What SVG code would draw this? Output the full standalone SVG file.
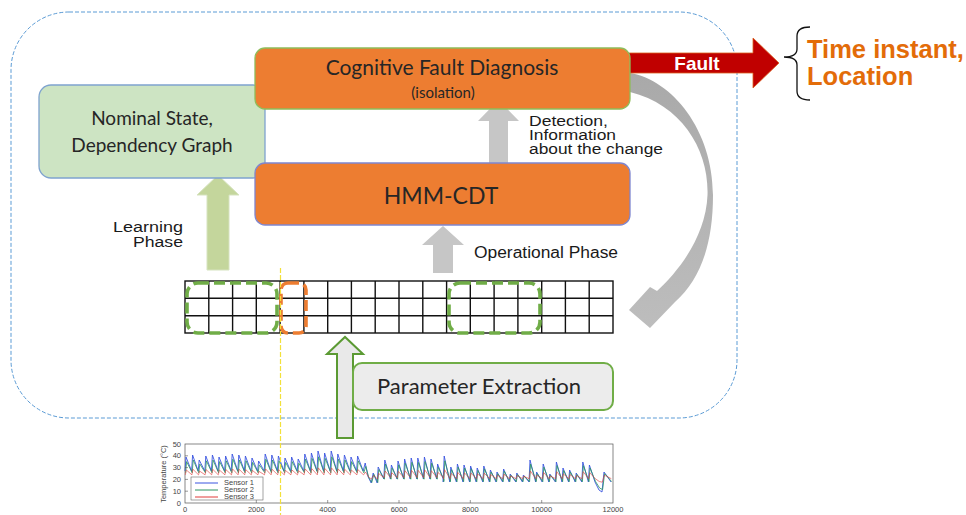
<svg xmlns="http://www.w3.org/2000/svg" xmlns:xlink="http://www.w3.org/1999/xlink" width="966" height="515" viewBox="0 0 966 515">
<style>
.cal{font-family:Lato,"Open Sans","Liberation Sans",sans-serif;fill:#262626}
.ari{font-family:"Liberation Sans",Arial,sans-serif;fill:#1a1a1a}
.box{stroke-width:1.3}
.grid{stroke:#111;stroke-width:1.4;fill:none}
.dash{fill:none;stroke-width:3.6;stroke-dasharray:11 5}
.tick{font-family:"Liberation Sans",Arial,sans-serif;font-size:7.5px;fill:#444}
.gray{fill:#c6c6c6}
</style>
<defs>
<linearGradient id="curveg" x1="0" y1="0" x2="0" y2="1">
  <stop offset="0" stop-color="#a9a9a9"/>
  <stop offset="1" stop-color="#bdbdbd"/>
</linearGradient>
<path id="s1" fill="none" d="M185,471 l1,-14l5.6,14 l1,-16l5.6,16 l1,-11l5.6,11 l1,-15l5.6,15 l1,-16l5.6,16 l1,-14l5.6,14 l1,-15l5.6,15 l1,-17l5.6,17 l1,-16l5.6,16 l1,-15l5.6,15 l1,-13l5.6,13 l1,-10l5.6,10 l1,-17l5.6,17 l1,-16l5.6,16 l1,-15l5.6,15 l1,-13l5.6,13 l1,-14l5.6,14 l1,-12l5.6,12 l1,-17l5.6,17 l1,-18l5.6,18 l1,-20l5.6,20 l1,-18l5.6,18 l1,-20l5.6,20 l1,-17l5.6,17 l1,-16l5.6,16 l1,-14l5.6,14 l1,-15l5.6,15 l2,-8 l3,14 l3,6 l2,-10 l4,10 l1,-16 l5.6,12 l1,-19l5.6,19 l1,-14l5.6,14 l1,-18l5.6,18 l1,-20l5.6,20 l1,-21l5.6,21 l1,-21l5.6,21 l1,-22l5.6,22 l1,-20l5.6,20 l1,-15l5.6,15 l0,3 l1,-26l5.6,26 l1,-15l5.6,15 l1,-18l5.6,18 l1,-17l5.6,17 l1,-16l5.6,16 l1,-14l5.6,14 l1,-16l5.6,16 l1,-12l5.6,12 l1,-10l5.6,10 l1,-13l5.6,13 l1,-8l5.6,8 l1,-9l5.6,9 l1,-7l5.6,7 l1,-22l5.6,22 l1,-10l5.6,10 l1,-18l5.6,18 l1,-8l5.6,8 l1,-20l5.6,20 l1,-14l5.6,14 l1,-12l5.6,12 l1,-9l5.6,9 l1,-20l5.6,20 l1,-17l5.6,17 l4,8 l3,2 l2,-20 l3,4 l4,6"/>
</defs>

<!-- outer dashed boundary -->
<rect x="11" y="12" width="726" height="406" rx="58" ry="58" fill="none" stroke="#5b9bd5" stroke-width="1" stroke-dasharray="4 2"/>

<!-- connectors -->
<g id="connectors">
  <!-- curved feedback arrow -->
  <path fill="url(#curveg)" d="M630,73 C672,80 713,130 713,195 C713,245 700,280 675,302 L650,328 L629,310 L650,287 L657,291 C680,270 706,235 707.5,195 C709,150 682,105 630,92 Z"/>
  <!-- learning phase arrow -->
  <path fill="#c4d69c" stroke="#d6e3bf" stroke-width="1" d="M207,270 V195 H197 L218,175 L239,195 H229 V270 Z"/>
  <!-- HMM -> CFD -->
  <path class="gray" d="M489,163 V121 H478 L498.5,100 L519,121 H508 V163 Z"/>
  <!-- grid -> HMM -->
  <path class="gray" d="M433,273 V245 H422 L443,226 L464,245 H453 V273 Z"/>
  <!-- plot -> grid -->
  <path fill="#e9e9e9" stroke="#5b9a33" stroke-width="2" d="M337,438 V354 H327 L345,337 L363,354 H353 V438 Z"/>
  <!-- fault arrow -->
  <path fill="#c00000" stroke="#d95f1e" stroke-width="0.8" d="M628,53 H753 V38 L779,63 L753,88 V73 H628 Z"/>
  <text x="697" y="70" text-anchor="middle" font-family="Liberation Sans,Arial,sans-serif" font-weight="bold" font-size="19" fill="#ffffff">Fault</text>
</g>

<!-- nodes -->
<g id="nominal">
  <rect class="box" x="39" y="85" width="226" height="93" rx="12" fill="#cde4c3" stroke="#7fa3cf"/>
  <text class="cal" x="152" y="125" text-anchor="middle" font-size="19">Nominal State,</text>
  <text class="cal" x="152" y="152" text-anchor="middle" font-size="19">Dependency Graph</text>
</g>
<g id="cfd">
  <rect class="box" x="255" y="48" width="375" height="61" rx="10" fill="#ed7d31" stroke="#8fbc5a"/>
  <text class="cal" x="442" y="75" text-anchor="middle" font-size="21">Cognitive Fault Diagnosis</text>
  <text class="cal" x="443" y="98" text-anchor="middle" font-size="15">(isolation)</text>
</g>
<g id="hmm">
  <rect class="box" x="255" y="163" width="375" height="62" rx="10" fill="#ed7d31" stroke="#7f86cf"/>
  <text class="cal" x="441" y="204" text-anchor="middle" font-size="23">HMM-CDT</text>
</g>
<g id="param">
  <rect x="353" y="363" width="260" height="47" rx="9" fill="#ececec" stroke="#70ad47" stroke-width="2"/>
  <text class="cal" x="479" y="394" text-anchor="middle" font-size="22">Parameter Extraction</text>
</g>

<!-- labels -->
<g id="labels">
  <text class="ari" x="113" y="232" font-size="15.5" textLength="70" lengthAdjust="spacingAndGlyphs">Learning</text>
  <text class="ari" x="133" y="246.5" font-size="15.5" textLength="50" lengthAdjust="spacingAndGlyphs">Phase</text>
  <text class="ari" x="474" y="258" font-size="16" textLength="144" lengthAdjust="spacingAndGlyphs">Operational Phase</text>
  <text class="ari" x="529" y="126" font-size="15.5" textLength="79" lengthAdjust="spacingAndGlyphs">Detection,</text>
  <text class="ari" x="529" y="139.5" font-size="15.5" textLength="87" lengthAdjust="spacingAndGlyphs">Information</text>
  <text class="ari" x="529" y="153.5" font-size="15.5" textLength="134" lengthAdjust="spacingAndGlyphs">about the change</text>
</g>

<!-- output -->
<g id="output">
  <path fill="none" stroke="#111" stroke-width="1.3" d="M810,27 Q797,27 797,36 V49 Q797,57 784,57 Q797,57 797,65 V91 Q797,100 810,100"/>
  <text x="807" y="58" font-family="Liberation Sans,Arial,sans-serif" font-weight="bold" font-size="25.5" fill="#e36c09">Time instant,</text>
  <text x="807" y="85" font-family="Liberation Sans,Arial,sans-serif" font-weight="bold" font-size="25.5" fill="#e36c09">Location</text>
</g>

<!-- grid of windows -->
<g id="grid">
  <rect class="grid" x="185" y="281" width="428" height="52" fill="#fff"/>
  <path class="grid" d="M185,298.3H613M185,315.7H613M208.8,281V333M232.6,281V333M256.3,281V333M280.1,281V333M303.9,281V333M327.7,281V333M351.4,281V333M375.2,281V333M399,281V333M422.8,281V333M446.6,281V333M470.3,281V333M494.1,281V333M517.9,281V333M541.7,281V333M565.4,281V333M589.2,281V333"/>
  <rect class="dash" x="187" y="283" width="90" height="50" rx="11" stroke="#70ad47"/>
  <rect class="dash" x="281" y="283" width="25" height="50" rx="7" stroke="#ed7d31"/>
  <rect class="dash" x="449" y="283" width="91" height="50" rx="11" stroke="#70ad47"/>
</g>

<!-- sensor plot -->
<g id="plot">
  <rect x="185" y="444" width="428" height="59" fill="#fff" stroke="#555" stroke-width="0.7"/>
  <use xlink:href="#s1" href="#s1" stroke="#3a55e0" stroke-width="0.9"/>
  <use xlink:href="#s1" href="#s1" stroke="#2a9460" stroke-width="0.9" vector-effect="non-scaling-stroke" transform="matrix(1,0,0,0.8,0.6,96)"/>
  <use xlink:href="#s1" href="#s1" stroke="#e03a3a" stroke-width="0.9" vector-effect="non-scaling-stroke" transform="matrix(1,0,0,0.35,0.3,310)"/>
  <g stroke="#555" stroke-width="0.6">
    <path d="M185,455.8h3M185,467.6h3M185,479.4h3M185,491.2h3M256.3,503v-3M327.7,503v-3M399,503v-3M470.3,503v-3M541.7,503v-3"/>
  </g>
  <rect x="191" y="477" width="72" height="23" fill="#fff" stroke="#666" stroke-width="0.6"/>
  <line x1="195" y1="483" x2="218" y2="483" stroke="#3a55e0" stroke-width="1"/>
  <line x1="195" y1="490" x2="218" y2="490" stroke="#2a9460" stroke-width="1"/>
  <line x1="195" y1="497" x2="218" y2="497" stroke="#e03a3a" stroke-width="1"/>
  <text class="tick" x="224" y="485.2" font-size="5.8">Sensor 1</text>
  <text class="tick" x="224" y="492.2" font-size="5.8">Sensor 2</text>
  <text class="tick" x="224" y="499.2" font-size="5.8">Sensor 3</text>
  <text class="tick" x="181" y="446.5" text-anchor="end">50</text>
  <text class="tick" x="181" y="458.3" text-anchor="end">40</text>
  <text class="tick" x="181" y="470.1" text-anchor="end">30</text>
  <text class="tick" x="181" y="481.9" text-anchor="end">20</text>
  <text class="tick" x="181" y="493.7" text-anchor="end">10</text>
  <text class="tick" x="181" y="505.5" text-anchor="end">0</text>
  <text class="tick" x="185" y="512" text-anchor="middle">0</text>
  <text class="tick" x="256.3" y="512" text-anchor="middle">2000</text>
  <text class="tick" x="327.7" y="512" text-anchor="middle">4000</text>
  <text class="tick" x="399" y="512" text-anchor="middle">6000</text>
  <text class="tick" x="470.3" y="512" text-anchor="middle">8000</text>
  <text class="tick" x="541.7" y="512" text-anchor="middle">10000</text>
  <text class="tick" x="613" y="512" text-anchor="middle">12000</text>
  <text class="tick" x="399" y="520" text-anchor="middle" font-size="8">Samples</text>
  <text class="tick" transform="translate(166,474) rotate(-90)" text-anchor="middle" font-size="7">Temperature (°C)</text>
</g>

<!-- time marker -->
<line x1="280.5" y1="268" x2="280.5" y2="515" stroke="#f2e13a" stroke-width="1.2" stroke-dasharray="5 2"/>
</svg>
